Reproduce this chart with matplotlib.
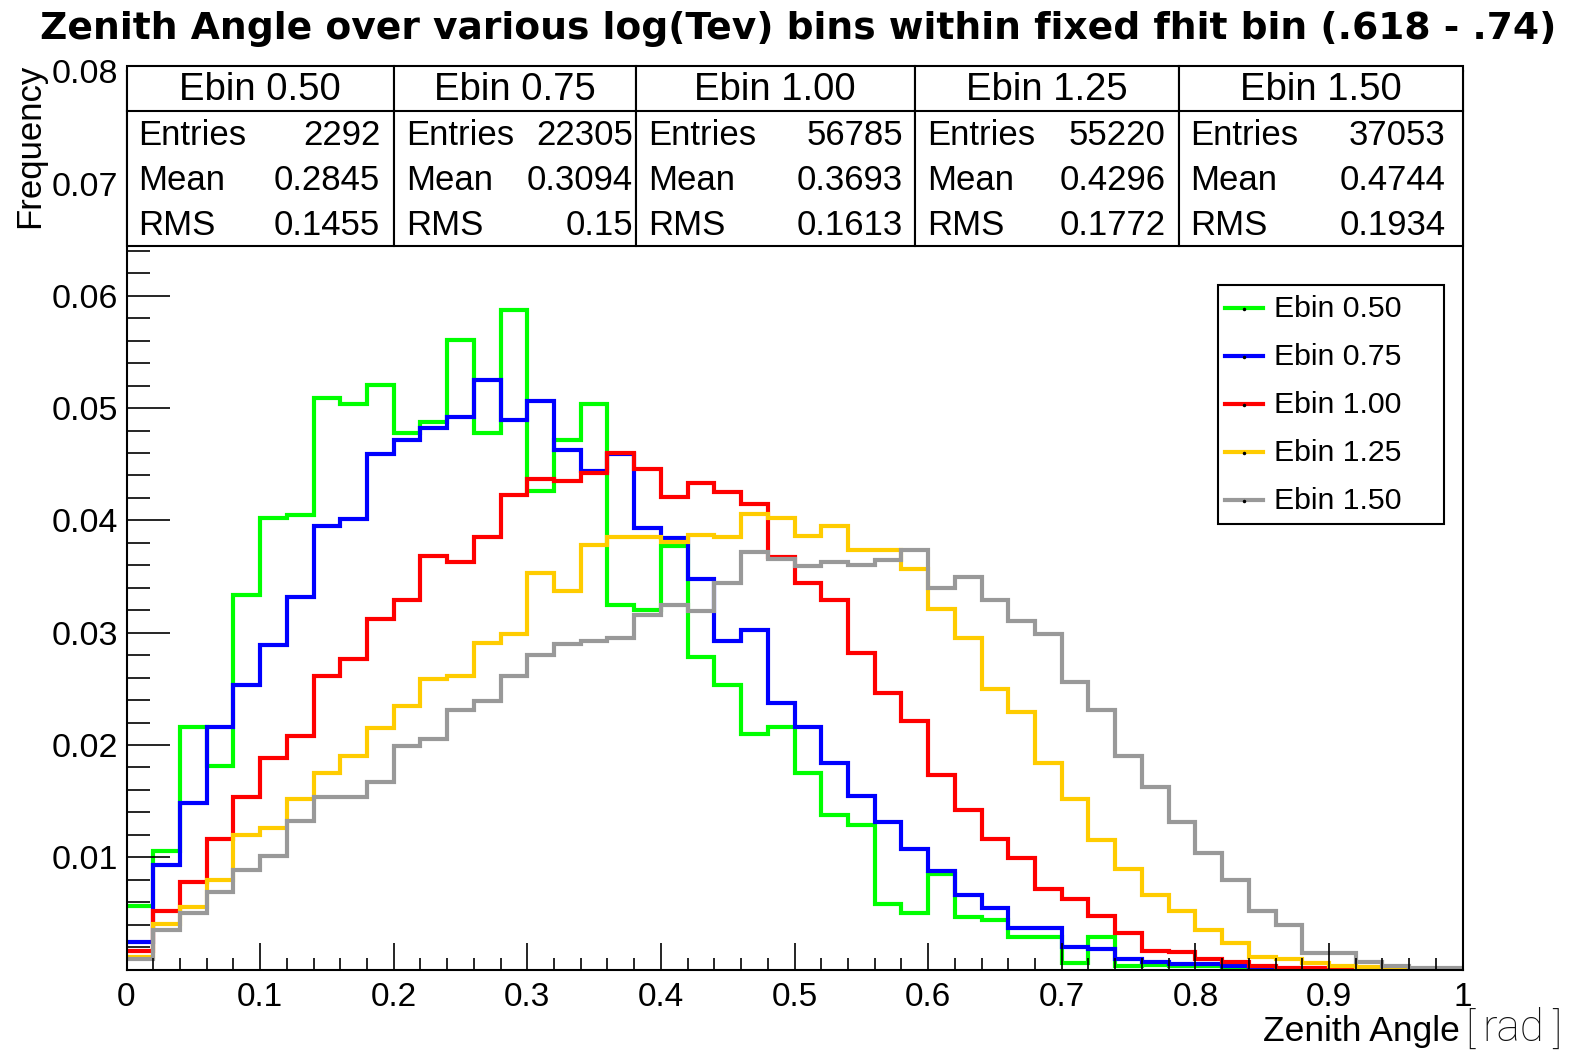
import matplotlib
matplotlib.use("Agg")
import matplotlib.pyplot as plt
import numpy as np
from matplotlib.patches import Rectangle
from matplotlib.lines import Line2D
from matplotlib.ticker import MultipleLocator

plt.rcParams['font.family'] = ['Liberation Sans', 'DejaVu Sans']

# ---------------- data ----------------
x_min, x_max, n_bins = 0.0, 1.0, 50

series_names = ["Ebin 0.50", "Ebin 0.75", "Ebin 1.00", "Ebin 1.25", "Ebin 1.50"]
series_colors = ["#00ff00", "#0000ff", "#ff0000", "#ffcc00", "#999999"]

ebin_050 = [0.0057, 0.0106, 0.0216, 0.0181, 0.0334, 0.0402, 0.0405, 0.0509, 0.0504, 0.0521,
            0.0478, 0.0488, 0.0561, 0.0478, 0.0587, 0.0426, 0.0472, 0.0504, 0.0325, 0.0320,
            0.0377, 0.0278, 0.0253, 0.0210, 0.0216, 0.0175, 0.0138, 0.0129, 0.0058, 0.0050,
            0.0085, 0.0047, 0.0044, 0.0029, 0.0029, 0.0006, 0.0029, 0.0003, 0.0004, 0.0003,
            0.0003, 0.0, 0.0, 0.0, 0.0, 0.0, 0.0, 0.0, 0.0, 0.0]
ebin_075 = [0.0025, 0.0093, 0.0148, 0.0216, 0.0253, 0.0289, 0.0332, 0.0395, 0.0401, 0.0459,
            0.0472, 0.0482, 0.0492, 0.0525, 0.0489, 0.0506, 0.0463, 0.0444, 0.0459, 0.0393,
            0.0384, 0.0348, 0.0293, 0.0302, 0.0237, 0.0216, 0.0184, 0.0155, 0.0131, 0.0107,
            0.0088, 0.0066, 0.0055, 0.0037, 0.0037, 0.0020, 0.0018, 0.0009, 0.0007, 0.0005,
            0.0005, 0.0003, 0.0001, 0.0, 0.0, 0.0, 0.0, 0.0, 0.0, 0.0]
ebin_100 = [0.0017, 0.0052, 0.0078, 0.0116, 0.0154, 0.0188, 0.0208, 0.0261, 0.0277, 0.0312,
            0.0329, 0.0368, 0.0363, 0.0385, 0.0423, 0.0437, 0.0435, 0.0442, 0.0460, 0.0446,
            0.0421, 0.0433, 0.0425, 0.0415, 0.0367, 0.0344, 0.0329, 0.0282, 0.0246, 0.0221,
            0.0173, 0.0142, 0.0116, 0.0099, 0.0072, 0.0063, 0.0048, 0.0033, 0.0017, 0.0016,
            0.0009, 0.0007, 0.0003, 0.0001, 0.0001, 0.0001, 0.0, 0.0, 0.0, 0.0]
ebin_125 = [0.0011, 0.0041, 0.0056, 0.0080, 0.0120, 0.0126, 0.0152, 0.0175, 0.0190, 0.0215,
            0.0235, 0.0259, 0.0261, 0.0291, 0.0299, 0.0353, 0.0337, 0.0378, 0.0385, 0.0385,
            0.0381, 0.0387, 0.0385, 0.0406, 0.0402, 0.0386, 0.0395, 0.0374, 0.0374, 0.0357,
            0.0321, 0.0295, 0.0250, 0.0229, 0.0184, 0.0152, 0.0115, 0.0090, 0.0066, 0.0052,
            0.0035, 0.0024, 0.0011, 0.0009, 0.0006, 0.0003, 0.0002, 0.0001, 0.0, 0.0]
ebin_150 = [0.0009, 0.0035, 0.0050, 0.0069, 0.0089, 0.0101, 0.0132, 0.0154, 0.0154, 0.0167,
            0.0199, 0.0205, 0.0231, 0.0239, 0.0261, 0.0280, 0.0290, 0.0293, 0.0295, 0.0316,
            0.0325, 0.0319, 0.0344, 0.0372, 0.0366, 0.0359, 0.0363, 0.0360, 0.0365, 0.0374,
            0.0340, 0.0350, 0.0329, 0.0310, 0.0299, 0.0256, 0.0231, 0.0190, 0.0163, 0.0131,
            0.0104, 0.0080, 0.0052, 0.0040, 0.0015, 0.0015, 0.0007, 0.0003, 0.0001, 0.0001]

stat_entries = ["2292", "22305", "56785", "55220", "37053"]
stat_means = ["0.2845", "0.3094", "0.3693", "0.4296", "0.4744"]
stat_rms = ["0.1455", "0.15", "0.1613", "0.1772", "0.1934"]

x_tick_labels = ["0", "0.1", "0.2", "0.3", "0.4", "0.5", "0.6", "0.7", "0.8", "0.9", "1"]
y_tick_labels = ["", "0.01", "0.02", "0.03", "0.04", "0.05", "0.06", "0.07", "0.08"]

title = "Zenith Angle over various log(Tev) bins within fixed fhit bin (.618 - .74)"

# ---------------- layout ----------------
W, H = 1585, 1051
fig = plt.figure(figsize=(W / 100, H / 100), dpi=100)


def fx(x):
    return x / W


def fy(y):
    return 1 - y / H


ax_l, ax_r, ax_b, ax_t = 126.5, 1462.6, 969.6, 71.2
ax = fig.add_axes([fx(ax_l), fy(ax_b), fx(ax_r) - fx(ax_l), fy(ax_t) - fy(ax_b)])

edges = np.linspace(x_min, x_max, n_bins + 1)
all_series = [ebin_050, ebin_075, ebin_100, ebin_125, ebin_150]
for vals, col in zip(all_series, series_colors):
    ax.stairs(vals, edges, color=col, linewidth=3.0, baseline=None)

ax.set_xlim(0, 1)
ax.set_ylim(0, 0.08)

ax.xaxis.set_minor_locator(MultipleLocator(0.02))
ax.yaxis.set_minor_locator(MultipleLocator(0.002))
ax.set_xticks(np.arange(len(x_tick_labels)) * 0.1)
ax.set_xticklabels(x_tick_labels)
ax.set_yticks(np.arange(len(y_tick_labels)) * 0.01)
ax.set_yticklabels(y_tick_labels)

ax.tick_params(axis='y', which='major', direction='in', length=31, width=1.2, labelsize=24.5, pad=6)
ax.tick_params(axis='y', which='minor', direction='in', length=16.5, width=1.2)
ax.tick_params(axis='x', which='major', direction='in', length=19.5, width=1.2, labelsize=24, pad=9)
ax.tick_params(axis='x', which='minor', direction='in', length=8.8, width=1.2)
ax.tick_params(top=False, right=False, which='both')
for s in ax.spines.values():
    s.set_linewidth(1.5)

# ---------------- stats boxes ----------------
box_x = [126.5, 394.2, 635.8, 914.8, 1178.6, 1462.6]
box_top, box_div, box_bot = 65.7, 111.2, 245.6
row_y = [135.4, 181.0, 225.4]
right_pad = [14, 3, 12, 13, 17]
for i in range(5):
    x0, x1 = box_x[i], box_x[i + 1]
    r = Rectangle((fx(x0), fy(box_bot)), fx(x1) - fx(x0), fy(box_top) - fy(box_bot),
                  transform=fig.transFigure, facecolor='white', edgecolor='black',
                  linewidth=1.5, zorder=5)
    fig.add_artist(r)
    fig.add_artist(Line2D([fx(x0), fx(x1)], [fy(box_div), fy(box_div)], transform=fig.transFigure,
                          color='black', linewidth=1.5, zorder=6))
    fig.text(fx((x0 + x1) / 2), fy(90.5), series_names[i], ha='center', va='center',
             fontsize=27.5, zorder=7)
    for lab, val, yy in zip(["Entries", "Mean", "RMS"],
                            [stat_entries[i], stat_means[i], stat_rms[i]], row_y):
        fig.text(fx(x0 + 12), fy(yy), lab, ha='left', va='center', fontsize=25, zorder=7)
        fig.text(fx(x1 - right_pad[i]), fy(yy), val, ha='right', va='center', fontsize=25, zorder=7)

# ---------------- legend ----------------
leg_l, leg_r, leg_t, leg_b = 1218, 1444, 285, 524
fig.add_artist(Rectangle((fx(leg_l), fy(leg_b)), fx(leg_r) - fx(leg_l), fy(leg_t) - fy(leg_b),
                         transform=fig.transFigure, facecolor='white', edgecolor='black',
                         linewidth=1.5, zorder=5))
leg_rows = [308, 356, 404, 452, 500]
for name, col, yy in zip(series_names, series_colors, leg_rows):
    fig.add_artist(Line2D([fx(1225), fx(1263)], [fy(yy), fy(yy)], transform=fig.transFigure,
                          color=col, linewidth=3.0, zorder=6))
    fig.add_artist(Line2D([fx(1244)], [fy(yy + 1)], transform=fig.transFigure, marker='o',
                          markersize=1.5, color='black', zorder=7))
    fig.text(fx(1274), fy(yy + 1), name, ha='left', va='center', fontsize=21.8, zorder=7)

# ---------------- labels ----------------
t = fig.text(fx(798.5), fy(39), title, ha='center', va='baseline', fontsize=24,
             family=['DejaVu Sans'], fontweight='bold')
fig.canvas.draw()
bb = t.get_window_extent()
t.set_fontsize(24 * 1516 / bb.width)

fig.text(fx(30), fy(64), "Frequency", rotation=90, ha='center', va='top', fontsize=25)
fig.text(fx(1460), fy(1041), "Zenith Angle", ha='right', va='baseline', fontsize=25.5)
fig.text(fx(1465), fy(1044), "[", ha='left', va='baseline', fontsize=31,
         family=['Roboto', 'DejaVu Sans'], fontweight='light', color='#111111')
fig.text(fx(1482), fy(1041), "rad", ha='left', va='baseline', fontsize=31.5,
         family=['Roboto', 'DejaVu Sans'], fontweight='light', color='#111111')
fig.text(fx(1552), fy(1044), "]", ha='left', va='baseline', fontsize=31,
         family=['Roboto', 'DejaVu Sans'], fontweight='light', color='#111111')

fig.savefig("out.png", dpi=100)
